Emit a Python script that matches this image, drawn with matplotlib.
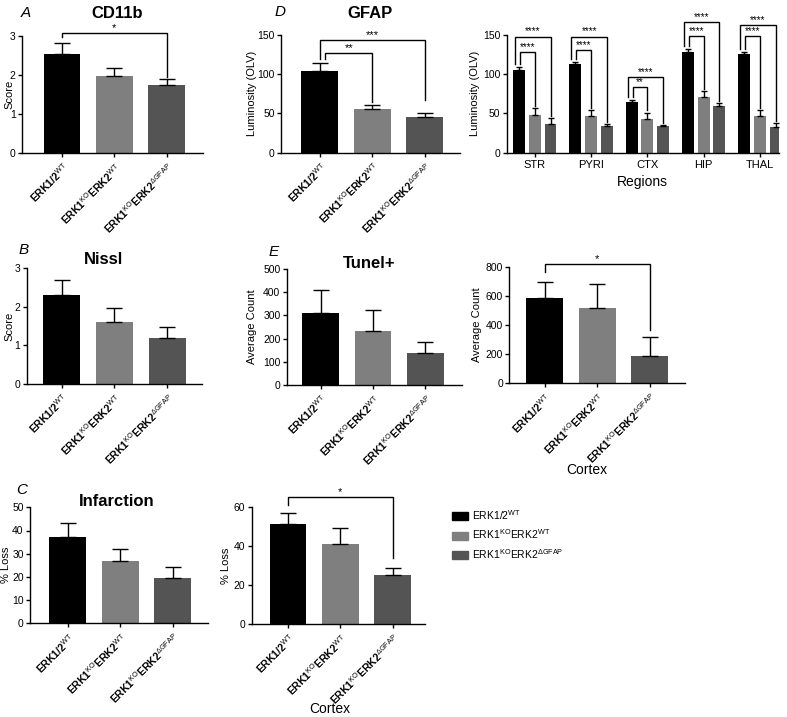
import matplotlib
matplotlib.use("Agg")
import matplotlib.pyplot as plt
import matplotlib.patches as mpatches
import numpy as np

# ── Style ─────────────────────────────────────────────────────────────────────
plt.rcParams.update({
    "font.family":       "Liberation Sans",
    "mathtext.fontset":  "custom",
    "mathtext.rm":       "Liberation Sans",
    "mathtext.bf":       "Liberation Sans:bold",
    "mathtext.it":       "Liberation Sans:italic",
    "axes.linewidth":    1.0,
    "axes.spines.top":   False,
    "axes.spines.right": False,
    "xtick.direction":   "out",
    "ytick.direction":   "out",
    "xtick.major.size":  3,
    "ytick.major.size":  3,
    "xtick.major.width": 1.0,
    "ytick.major.width": 1.0,
    "xtick.major.pad":   2.5,
    "ytick.major.pad":   1.5,
    "xtick.labelsize":   7.5,
    "ytick.labelsize":   7.5,
    "axes.labelsize":    8,
})

COLORS = ["#000000", "#7f7f7f", "#545454"]

# ── Data ──────────────────────────────────────────────────────────────────────
GENOTYPE_TICKS = [
    r"$\mathbf{ERK1/2}^{\mathrm{WT}}$",
    r"$\mathbf{ERK1}^{\mathrm{KO}}\mathbf{ERK2}^{\mathrm{WT}}$",
    r"$\mathbf{ERK1}^{\mathrm{KO}}\mathbf{ERK2}^{\mathrm{ΔGFAP}}$",
]
LEGEND_LABELS = [
    r"ERK1/2$^{\mathrm{WT}}$",
    r"ERK1$^{\mathrm{KO}}$ERK2$^{\mathrm{WT}}$",
    r"ERK1$^{\mathrm{KO}}$ERK2$^{\mathrm{ΔGFAP}}$",
]

CD11B_MEAN = [2.55, 1.98, 1.74]
CD11B_SEM  = [0.26, 0.19, 0.15]

NISSL_MEAN = [2.32, 1.61, 1.20]
NISSL_SEM  = [0.38, 0.37, 0.29]

INFARCT_MEAN = [37.4, 26.9, 19.4]
INFARCT_SEM  = [5.7, 5.0, 4.7]

INFARCT_CTX_MEAN = [51.0, 40.7, 25.1]
INFARCT_CTX_SEM  = [5.6, 8.6, 3.7]

GFAP_MEAN = [104, 55.5, 45]
GFAP_SEM  = [10, 4.8, 6]

REGIONS = ["STR", "PYRI", "CTX", "HIP", "THAL"]
REG_WT_MEAN   = [105.4, 112.6, 64.0, 128.8, 125.4]
REG_WT_SEM    = [3.4, 3.0, 3.0, 3.8, 2.6]
REG_KO_MEAN   = [48.0, 46.7, 43.0, 71.4, 47.0]
REG_KO_SEM    = [8.5, 7.7, 8.0, 7.2, 7.4]
REG_DKO_MEAN  = [36.5, 34.0, 34.0, 60.0, 33.0]
REG_DKO_SEM   = [7.5, 2.5, 1.0, 3.0, 4.4]
# significance: (outer y, inner y) and (outer stars, inner stars)
REG_SIG_Y     = [(148, 128), (148, 131), (96, 84), (166, 149), (163, 149)]
REG_SIG_TXT   = [("****", "****"), ("****", "****"), ("****", "**"),
                 ("****", "****"), ("****", "****")]

TUNEL_MEAN = [311, 234, 139]
TUNEL_SEM  = [97, 89, 45]

TUNEL_CTX_MEAN = [583, 514, 187]
TUNEL_CTX_SEM  = [110, 165, 128]

# ── Layout helpers (pixel boxes from the 787x717 canvas) ─────────────────────
W, H = 787, 717
fig = plt.figure(figsize=(W / 100, H / 100), dpi=100)


def add_ax(x0, x1, y0, y1):
    return fig.add_axes([x0 / W, 1 - y1 / H, (x1 - x0) / W, (y1 - y0) / H])


def place_ylabel(ax, box, label_px):
    # label_px: x centre of the y label in canvas pixels
    x0, x1 = box[0], box[1]
    ax.yaxis.set_label_coords((label_px + 5 - x0) / (x1 - x0), 0.5)


def place_xlabel(ax, box, cx_px, top_px):
    x0, x1, y0, y1 = box
    ax.xaxis.set_label_coords((cx_px - x0) / (x1 - x0),
                              (y1 - top_px) / (y1 - y0))


def bracket(ax, x1, x2, y, b1, b2, text, fs=8):
    ax.plot([x1, x1, x2, x2], [b1, y, y, b2], color="black", lw=1.0,
            clip_on=False, solid_joinstyle="miter")
    ax.text((x1 + x2) / 2, y, text, ha="center", va="bottom", fontsize=fs,
            clip_on=False)


def genotype_panel(box, means, sems, ymax, ystep, ylabel, xlim, label_px):
    ax = add_ax(*box)
    x = np.arange(len(means))
    ax.bar(x, means, width=0.7, color=COLORS, edgecolor="none", zorder=2)
    ax.errorbar(x, means, yerr=[np.zeros(len(means)), sems], fmt="none",
                ecolor="black", elinewidth=1.0, capsize=6, capthick=1.0,
                zorder=3)
    ax.set_xlim(xlim)
    ax.set_ylim(0, ymax)
    ax.set_yticks(np.arange(0, ymax + ystep / 2, ystep))
    ax.set_xticks(x)
    ax.set_xticklabels(GENOTYPE_TICKS, rotation=45, ha="right",
                       va="top", rotation_mode="anchor")
    ax.set_ylabel(ylabel)
    place_ylabel(ax, box, label_px)
    return ax


def panel_title(x, y, text, letter=None, lx=None, ly=None):
    fig.text(x / W, 1 - y / H, text, ha="center", va="center",
             fontsize=12, fontweight="bold")
    if letter:
        fig.text(lx / W, 1 - ly / H, letter, ha="center", va="center",
                 fontsize=11, style="italic")


# ── A: CD11b ──────────────────────────────────────────────────────────────────
ax = genotype_panel((22, 203, 36, 153), CD11B_MEAN, CD11B_SEM, 3, 1, "Score",
                    (-0.76, 2.69), 9)
bracket(ax, 0, 2, 3.07, 2.97, 1.95, "*")
panel_title(117, 13, "CD11b", "A", 26, 13)

# ── B: Nissl ──────────────────────────────────────────────────────────────────
ax = genotype_panel((26.7, 201.7, 268.3, 384), NISSL_MEAN, NISSL_SEM, 3, 1,
                    "Score", (-0.66, 2.65), 9)
panel_title(103, 259, "Nissl", "B", 24, 250)

# ── C: Infarction ─────────────────────────────────────────────────────────────
ax = genotype_panel((30, 208, 507.3, 623.3), INFARCT_MEAN, INFARCT_SEM, 50, 10,
                    "% Loss", (-0.72, 2.67), 6)
panel_title(117, 502, "Infarction", "C", 22, 490)

box = (251.7, 425, 506.7, 624)
ax = genotype_panel(box, INFARCT_CTX_MEAN, INFARCT_CTX_SEM, 60, 20, "% Loss",
                    (-0.69, 2.62), 226)
ax.set_xlabel("Cortex", fontsize=10)
place_xlabel(ax, box, 330, 702)
bracket(ax, 0, 2, 64.8, 60.9, 34, "*")

# ── D: GFAP ───────────────────────────────────────────────────────────────────
ax = genotype_panel((281, 460, 35, 152.7), GFAP_MEAN, GFAP_SEM, 150, 50,
                    "Luminosity (OLV)", (-0.74, 2.67), 252)
bracket(ax, 0, 2, 143.6, 120, 67, "***")
bracket(ax, 0.1, 1, 127.5, 120, 65, "**")
panel_title(370, 13, "GFAP", "D", 280, 12)

box = (506.7, 779, 35, 152.7)
ax = add_ax(*box)
gx = np.arange(len(REGIONS))
off, bw = 0.28, 0.21
groups = [(REG_WT_MEAN, REG_WT_SEM), (REG_KO_MEAN, REG_KO_SEM),
          (REG_DKO_MEAN, REG_DKO_SEM)]
for i, (m, s) in enumerate(groups):
    xi = gx + (i - 1) * off
    ax.bar(xi, m, width=bw, color=COLORS[i], edgecolor="none", zorder=2)
    ax.errorbar(xi, m, yerr=[np.zeros(len(m)), s], fmt="none", ecolor="black",
                elinewidth=1.0, capsize=2, capthick=1.0, zorder=3)
for g in range(len(REGIONS)):
    top_wt = REG_WT_MEAN[g] + REG_WT_SEM[g]
    top_ko = REG_KO_MEAN[g] + REG_KO_SEM[g]
    top_dko = REG_DKO_MEAN[g] + REG_DKO_SEM[g]
    yo, yi = REG_SIG_Y[g]
    to, ti = REG_SIG_TXT[g]
    bracket(ax, g - off - 0.07, g + off, yo, top_wt + 4, top_dko + 3, to, fs=7)
    bracket(ax, g - off + 0.02, g, yi, top_wt + 4, top_ko + 3, ti, fs=7)
ax.set_xlim(-0.5, 4.34)
ax.set_ylim(0, 150)
ax.set_yticks([0, 50, 100, 150])
ax.set_xticks(gx)
ax.set_xticklabels(REGIONS, fontsize=8)
ax.set_ylabel("Luminosity (OLV)")
place_ylabel(ax, box, 475)
ax.set_xlabel("Regions", fontsize=10, labelpad=3)

# ── E: Tunel+ ─────────────────────────────────────────────────────────────────
ax = genotype_panel((286.7, 461.7, 269, 385), TUNEL_MEAN, TUNEL_SEM, 500, 100,
                    "Average Count", (-0.645, 2.69), 252)
panel_title(369, 263, "Tunel+", "E", 274, 252)

box = (509.3, 685, 266.7, 383.3)
ax = genotype_panel(box, TUNEL_CTX_MEAN, TUNEL_CTX_SEM, 800, 200,
                    "Average Count", (-0.67, 2.67), 477)
ax.set_xlabel("Cortex", fontsize=10)
place_xlabel(ax, box, 587, 463)
bracket(ax, 0, 2, 816, 766, 366, "*")

# ── Legend ────────────────────────────────────────────────────────────────────
handles = [mpatches.Patch(color=c) for c in COLORS]
fig.legend(handles, LEGEND_LABELS, loc="upper left",
           bbox_to_anchor=(452 / W, 1 - 508 / H), frameon=False, fontsize=7.5,
           handlelength=1.5, handleheight=0.8, handletextpad=0.4,
           labelspacing=0.55, borderpad=0, borderaxespad=0)

fig.savefig("out.png", dpi=100)
